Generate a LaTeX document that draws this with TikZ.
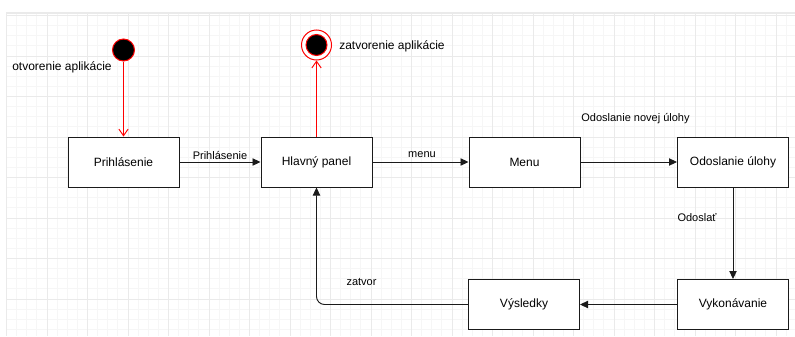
\documentclass[tikz,border=0pt]{standalone}
\usepackage{fontspec}
\setmainfont{Liberation Sans}
\usetikzlibrary{arrows.meta}
\definecolor{gridminor}{HTML}{F6F6F6}
\definecolor{gridmajor}{HTML}{EAEAEA}
\definecolor{umlred}{HTML}{FF0000}
\definecolor{ink}{HTML}{1A1A1A}
\tikzset{
  stbox/.style={draw=ink, line width=0.75pt, fill=white, minimum width=83.25pt,
    minimum height=37.5pt, inner sep=0pt, font=\fontsize{9}{11}\selectfont},
  lbl/.style={font=\fontsize{8.25}{10}\selectfont, inner sep=0pt},
  flow/.style={draw=ink, line width=0.7pt, -{Triangle[length=6pt,width=5.5pt]}},
  redflow/.style={draw=umlred, line width=0.7pt, -{Straight Barb[length=5pt,width=7pt]}},
}
\begin{document}
\begin{tikzpicture}[x=0.75pt,y=-0.75pt]
\useasboundingbox (0,0) rectangle (795,336);
\fill[white] (0,0) rectangle (795,336);
% background grid
\foreach \k in {0,...,31} {
  \draw[gridminor, line width=0.6pt] (6.5,{15.5+10.125*\k}) -- (795,{15.5+10.125*\k});
}
\foreach \k in {0,...,77} {
  \draw[gridminor, line width=0.6pt] ({6.5+10.125*\k},13) -- ({6.5+10.125*\k},336);
}
\foreach \k in {0,...,7} {
  \draw[gridmajor, line width=0.6pt] (6.5,{15.5+40.5*\k}) -- (795,{15.5+40.5*\k});
}
\foreach \k in {0,...,19} {
  \draw[gridmajor, line width=0.6pt] ({6.5+40.5*\k},13) -- ({6.5+40.5*\k},336);
}
\draw[gridmajor, line width=0.9pt] (6,13) -- (795,13);

% states
\node[stbox] (login)   at (123.5,162)  {Prihlásenie};
\node[stbox] (panel)   at (316.5,162)  {Hlavný panel};
\node[stbox] (menu)    at (524.5,162)  {Menu};
\node[stbox] (send)    at (733,162)    {Odoslanie úlohy};
\node[stbox] (run)     at (733,304.5)  {Vykonávanie};
\node[stbox] (results) at (524,304.5)  {Výsledky};

% initial and final pseudo-states
\node[circle, draw=umlred, fill=black, line width=0.75pt, minimum size=16.5pt, inner sep=0pt] (start) at (123.5,50) {};
\node[circle, draw=umlred, fill=white, line width=0.75pt, minimum size=22.5pt, inner sep=0pt] (stop) at (316.5,45) {};
\node[circle, draw=umlred, fill=black, line width=0.75pt, minimum size=15.75pt, inner sep=0pt] (stopin) at (316.5,45) {};

\node[font=\fontsize{9}{11}\selectfont, inner sep=0pt] (openlbl) at (62,67) {otvorenie aplikácie};
\node[font=\fontsize{9}{11}\selectfont, inner sep=0pt] (closelbl) at (392,46) {zatvorenie aplikácie};

% transitions
\draw[redflow] (start) -- (login);
\draw[redflow] (panel) -- (stop);
\draw[flow] (login) -- (panel);
\draw[flow] (panel) -- (menu);
\draw[flow] (menu) -- (send);
\draw[flow] (send) -- (run);
\draw[flow] (run) -- (results);
\draw[flow, rounded corners=6pt] (results.west) -| (panel.south);

% transition labels
\node[lbl] (l1) at (220,155) {Prihlásenie};
\node[lbl] (l2) at (422,155) {menu};
\node[lbl] (l3) at (635.5,119) {Odoslanie novej úlohy};
\node[lbl] (l4) at (697,218) {Odoslať};
\node[lbl] (l5) at (361.5,282) {zatvor};
\end{tikzpicture}
\end{document}
